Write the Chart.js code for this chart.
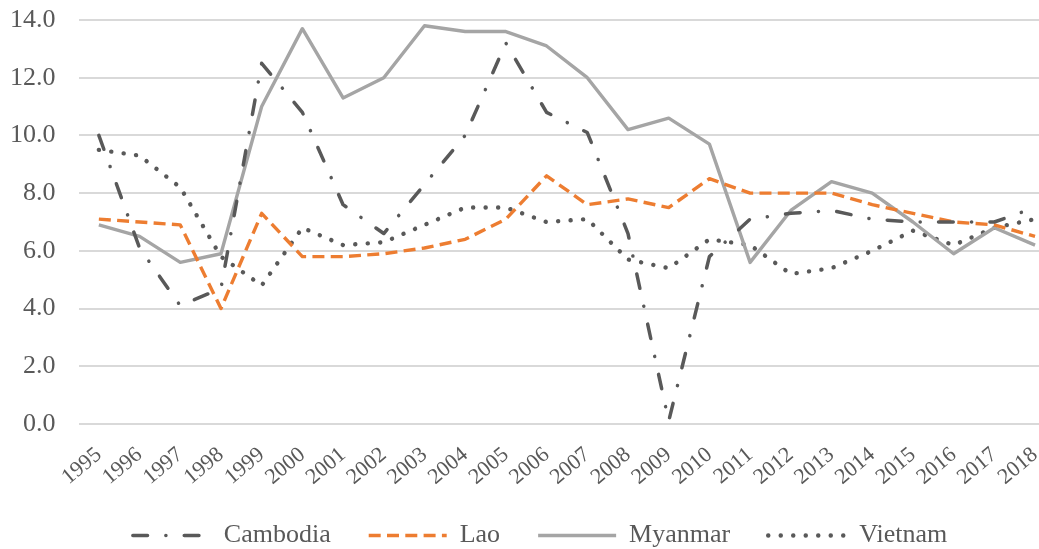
<!DOCTYPE html>
<html>
<head>
<meta charset="utf-8">
<script src="https://cdn.jsdelivr.net/npm/chart.js@4"></script>
<style>
  html, body { margin: 0; padding: 0; background: #fff; overflow: hidden; }
  #wrap { width: 1062px; height: 549px; }
</style>
</head>
<body>
<div id="wrap"><canvas id="myChart" width="1062" height="549"></canvas></div>
<script>
const years = ['1995', '1996', '1997', '1998', '1999', '2000', '2001', '2002', '2003', '2004', '2005', '2006',
  '2007', '2008', '2009', '2010', '2011', '2012', '2013', '2014', '2015', '2016', '2017', '2018'];

const cambodia = [10.0, 6.1, 4.1, 4.7, 12.5, 10.8, 7.6, 6.6, 8.3, 10.0, 13.2, 10.8,
  10.1, 6.6, 0.1, 5.8, 7.1, 7.3, 7.4, 7.1, 7.0, 7.0, 7.0, 7.5];
const lao = [7.1, 7.0, 6.9, 4.0, 7.3, 5.8, 5.8, 5.9, 6.1, 6.4, 7.1, 8.6,
  7.6, 7.8, 7.5, 8.5, 8.0, 8.0, 8.0, 7.6, 7.3, 7.0, 6.9, 6.5];
const myanmar = [6.9, 6.5, 5.6, 5.9, 11.0, 13.7, 11.3, 12.0, 13.8, 13.6, 13.6, 13.1,
  12.0, 10.2, 10.6, 9.7, 5.6, 7.4, 8.4, 8.0, 7.0, 5.9, 6.8, 6.2];
const vietnam = [9.5, 9.3, 8.2, 5.8, 4.8, 6.8, 6.2, 6.3, 6.9, 7.5, 7.5, 7.0,
  7.1, 5.7, 5.4, 6.4, 6.2, 5.2, 5.4, 6.0, 6.7, 6.2, 6.8, 7.1];

const yTicks = { min: 0, max: 14, step: 2 };

Chart.defaults.font.family = "'Liberation Serif', 'Times New Roman', serif";
Chart.defaults.font.size = 26;
Chart.defaults.color = '#595959';

// the legend in the original sits a bit right of the canvas centre
const shiftLegend = {
  id: 'shiftLegend',
  afterLayout(chart) {
    chart.legend.left += 4;
    chart.legend.right += 4;
  }
};

const ctx = document.getElementById('myChart');

new Chart(ctx, {
  type: 'line',
  data: {
    labels: years,
    datasets: [{
      label: 'Cambodia',
      data: cambodia,
      borderColor: '#595959',
      borderWidth: 3.5,
      borderDash: [14.7, 18.3, 0.1, 18.3],
      borderCapStyle: 'round',
      borderJoinStyle: 'round'
    }, {
      label: 'Lao',
      data: lao,
      borderColor: '#ED7D31',
      borderWidth: 3.4,
      borderDash: [12, 6.3],
      borderCapStyle: 'butt',
      borderJoinStyle: 'round'
    }, {
      label: 'Myanmar',
      data: myanmar,
      borderColor: '#A5A5A5',
      borderWidth: 3.4,
      borderCapStyle: 'butt',
      borderJoinStyle: 'round'
    }, {
      label: 'Vietnam',
      data: vietnam,
      borderColor: '#595959',
      borderWidth: 4.4,
      borderDash: [0.1, 12.4],
      borderCapStyle: 'round',
      borderJoinStyle: 'round'
    }]
  },
  options: {
    responsive: false,
    animation: false,
    devicePixelRatio: 1,
    elements: {
      point: { radius: 0 },
      line: { tension: 0 }
    },
    layout: {
      padding: { left: 10, top: 20, right: 0, bottom: 0 }
    },
    scales: {
      x: {
        offset: true,
        grid: { display: false },
        border: { display: false },
        ticks: {
          font: { size: 22 },
          minRotation: 40,
          maxRotation: 40,
          padding: 10,
          autoSkip: false
        },
        afterFit: (scale) => { scale.height = 60.5; }
      },
      y: {
        min: yTicks.min,
        max: yTicks.max,
        border: { display: false },
        grid: { color: '#D9D9D9', lineWidth: 2, drawTicks: false },
        ticks: {
          stepSize: yTicks.step,
          padding: 23,
          callback: (v) => v.toFixed(1)
        },
        afterFit: (scale) => {
          scale.width = 68.5;
          scale.paddingTop = 0;
          scale.paddingBottom = 0;
        }
      }
    },
    plugins: {
      tooltip: { enabled: false },
      legend: {
        position: 'bottom',
        maxHeight: 64.5,
        labels: {
          usePointStyle: true,
          pointStyle: 'line',
          pointStyleWidth: 78,
          padding: 38,
          generateLabels: (chart) => chart.data.datasets.map((ds, i) => ({
            text: ds.label,
            fillStyle: ds.borderColor,
            strokeStyle: ds.borderColor,
            fontColor: '#595959',
            lineWidth: ds.borderWidth,
            lineDash: ds.borderDash || [],
            lineCap: ds.borderCapStyle,
            pointStyle: 'line',
            hidden: false,
            datasetIndex: i
          }))
        }
      }
    }
  },
  plugins: [shiftLegend]
});
</script>
</body>
</html>
